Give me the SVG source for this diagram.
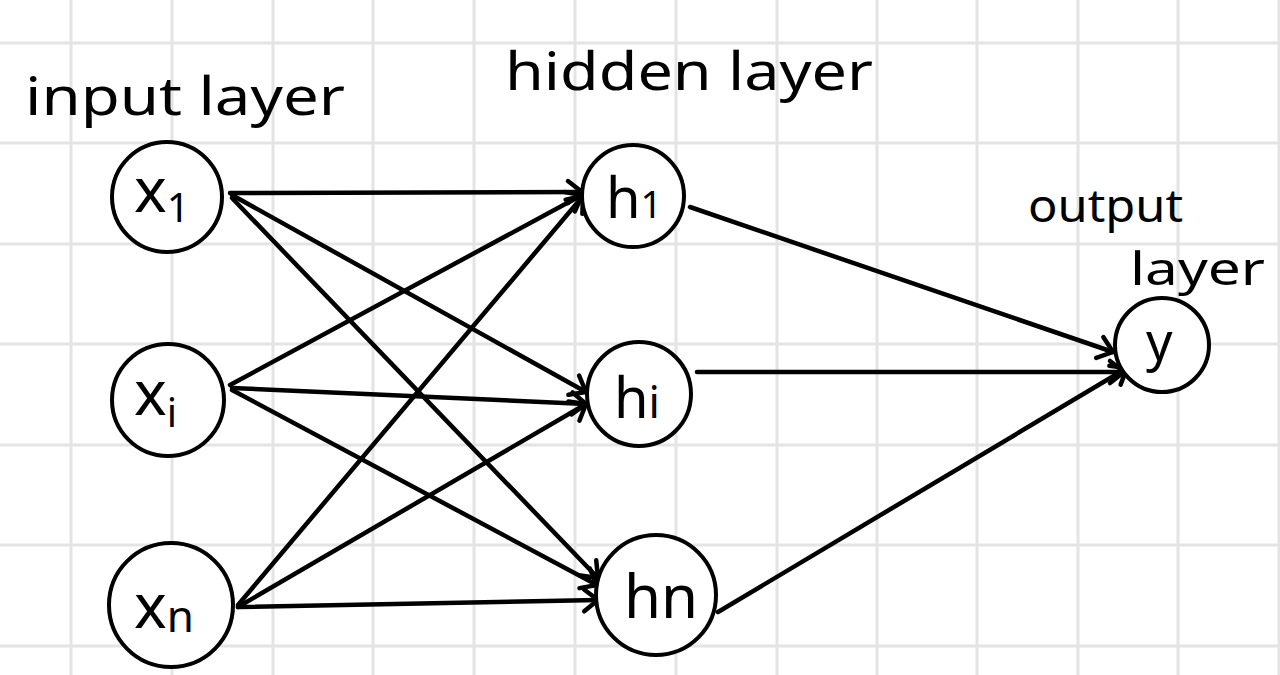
<svg xmlns="http://www.w3.org/2000/svg" width="1280" height="675" viewBox="0 0 1280 675">
<defs>
<style>
.grid line{stroke:#e4e4e4;stroke-width:3}
.node circle{fill:#fff;stroke:#000;stroke-width:4}
.lbl{font-family:"Noto Sans","DejaVu Sans",sans-serif;fill:#000}
.title{font-family:"Noto Sans","DejaVu Sans",sans-serif;font-size:52px;fill:#000}
.edges line{stroke:#000;stroke-width:4.5;stroke-linecap:round}
</style>
<marker id="arr" markerUnits="userSpaceOnUse" markerWidth="30" markerHeight="30" viewBox="0 0 30 30" refX="22" refY="15" orient="auto">
<path d="M8,4 L22,15 L8,26" fill="none" stroke="#000" stroke-width="4.5" stroke-linecap="round" stroke-linejoin="round"/>
</marker>
</defs>
<rect width="1280" height="675" fill="#fff"/>
<g class="grid">
<line x1="71" y1="0" x2="71" y2="675"/>
<line x1="172" y1="0" x2="172" y2="675"/>
<line x1="273" y1="0" x2="273" y2="675"/>
<line x1="373" y1="0" x2="373" y2="675"/>
<line x1="474" y1="0" x2="474" y2="675"/>
<line x1="575" y1="0" x2="575" y2="675"/>
<line x1="676" y1="0" x2="676" y2="675"/>
<line x1="777" y1="0" x2="777" y2="675"/>
<line x1="877" y1="0" x2="877" y2="675"/>
<line x1="977" y1="0" x2="977" y2="675"/>
<line x1="1078" y1="0" x2="1078" y2="675"/>
<line x1="1178" y1="0" x2="1178" y2="675"/>
<line x1="1279" y1="0" x2="1279" y2="675"/>
<line x1="0" y1="43" x2="1280" y2="43"/>
<line x1="0" y1="143" x2="1280" y2="143"/>
<line x1="0" y1="244" x2="1280" y2="244"/>
<line x1="0" y1="344" x2="1280" y2="344"/>
<line x1="0" y1="445" x2="1280" y2="445"/>
<line x1="0" y1="545" x2="1280" y2="545"/>
<line x1="0" y1="646" x2="1280" y2="646"/>
</g>
<g id="titles">
<text class="title" x="25" y="115" textLength="320" lengthAdjust="spacingAndGlyphs">input layer</text>
<text class="title" x="505" y="90" textLength="368" lengthAdjust="spacingAndGlyphs">hidden layer</text>
<text class="title" x="1028" y="222" font-size="46" textLength="155" lengthAdjust="spacingAndGlyphs" style="font-size:46px">output</text>
<text class="title" x="1130" y="285" textLength="135" lengthAdjust="spacingAndGlyphs" style="font-size:46px">layer</text>
</g>
<g class="edges">
<line x1="230" y1="193" x2="582" y2="192" marker-end="url(#arr)"/>
<line x1="232" y1="195" x2="586" y2="392" marker-end="url(#arr)"/>
<line x1="232" y1="198" x2="598" y2="578" marker-end="url(#arr)"/>
<line x1="230" y1="385" x2="582" y2="195" marker-end="url(#arr)"/>
<line x1="232" y1="388" x2="586" y2="404" marker-end="url(#arr)"/>
<line x1="232" y1="390" x2="597" y2="585" marker-end="url(#arr)"/>
<line x1="238" y1="605" x2="583" y2="196" marker-end="url(#arr)"/>
<line x1="238" y1="607" x2="586" y2="404" marker-end="url(#arr)"/>
<line x1="238" y1="607" x2="598" y2="600" marker-end="url(#arr)"/>
<line x1="690" y1="207" x2="1113" y2="352" marker-end="url(#arr)"/>
<line x1="697" y1="372" x2="1124" y2="372" marker-end="url(#arr)"/>
<line x1="718" y1="612" x2="1127" y2="368" marker-end="url(#arr)"/>
</g>
<g id="x1" class="node">
<circle cx="167" cy="197" r="55"/>
<text class="lbl" x="134" y="212" font-size="62">x<tspan font-size="40" dy="10">1</tspan></text>
</g>
<g id="xi" class="node">
<circle cx="168" cy="400" r="56"/>
<text class="lbl" x="134" y="415" font-size="62">x<tspan font-size="40" dy="12">i</tspan></text>
</g>
<g id="xn" class="node">
<circle cx="171" cy="605" r="62"/>
<text class="lbl" x="134" y="628" font-size="62">x<tspan font-size="44" dy="4">n</tspan></text>
</g>
<g id="h1" class="node">
<circle cx="633" cy="196" r="51"/>
<text class="lbl" x="606" y="218" font-size="56">h<tspan font-size="38">1</tspan></text>
</g>
<g id="hi" class="node">
<circle cx="639" cy="394" r="52"/>
<text class="lbl" x="614" y="418" font-size="56">h<tspan font-size="44">i</tspan></text>
</g>
<g id="hn" class="node">
<circle cx="656" cy="595" r="60"/>
<text class="lbl" x="624" y="618" font-size="60">hn</text>
</g>
<g id="y" class="node">
<circle cx="1162" cy="345" r="47"/>
<text class="lbl" x="1146" y="360" font-size="52">y</text>
</g>
</svg>
